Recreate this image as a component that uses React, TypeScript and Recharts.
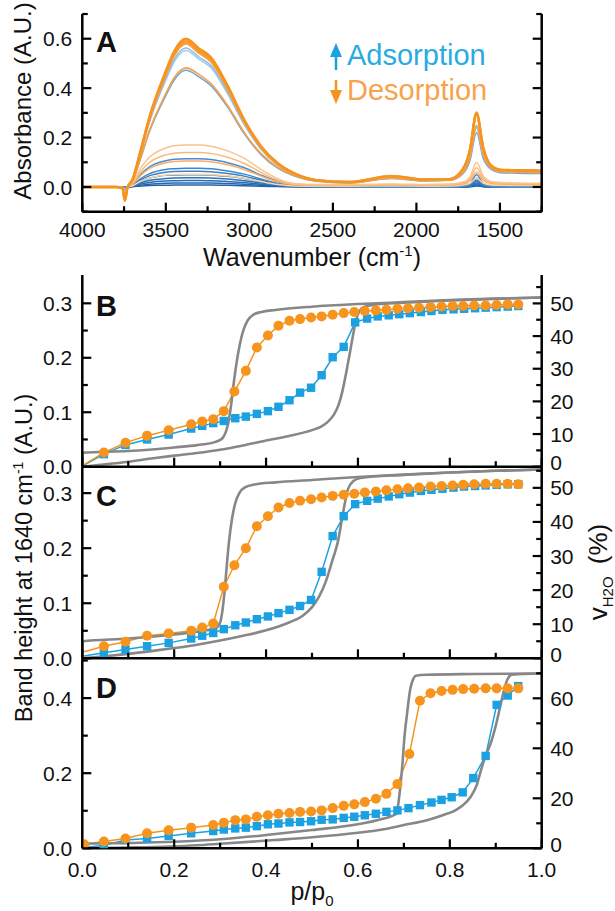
import React from "react";
import { LineChart, Line, XAxis, YAxis } from "recharts";

const FONT = '"Liberation Sans", Arial, Helvetica, sans-serif';
const ORANGE = "#f7941d";
const BLUE = "#1ba1e2";
const GRAY = "#878787";
const AXIS_LINE = { stroke: "#000", strokeWidth: 2.5 };

// ---------- panel A: IR spectra (absorbance vs wavenumber) ----------
const wavenumbers = [4000, 3800, 3760, 3745, 3730, 3700, 3650, 3600, 3500, 3450, 3380, 3300, 3230, 3130, 3030, 2930, 2830, 2730, 2600, 2400, 2150, 1950, 1800, 1720, 1680, 1640, 1600, 1550, 1500, 1400, 1250];

const desTop1 = [0, 0, -0.004, -0.055, -0.004, 0.030, 0.150, 0.280, 0.470, 0.550, 0.600, 0.560, 0.525, 0.410, 0.272, 0.165, 0.096, 0.055, 0.028, 0.020, 0.045, 0.030, 0.032, 0.075, 0.150, 0.302, 0.160, 0.085, 0.070, 0.068, 0.066];
const desTop2 = [0, 0, -0.004, -0.055, -0.004, 0.029, 0.147, 0.275, 0.462, 0.541, 0.590, 0.551, 0.517, 0.403, 0.268, 0.163, 0.095, 0.054, 0.028, 0.020, 0.044, 0.030, 0.032, 0.074, 0.148, 0.297, 0.158, 0.084, 0.069, 0.067, 0.065];
const desTop3 = [0, 0, -0.004, -0.05, -0.004, 0.028, 0.145, 0.270, 0.455, 0.532, 0.580, 0.542, 0.508, 0.397, 0.264, 0.160, 0.093, 0.053, 0.027, 0.019, 0.043, 0.029, 0.031, 0.072, 0.145, 0.292, 0.155, 0.083, 0.068, 0.066, 0.064];
const desMid = [0, 0, -0.004, -0.05, -0.004, 0.024, 0.120, 0.225, 0.378, 0.442, 0.482, 0.455, 0.418, 0.330, 0.220, 0.135, 0.080, 0.046, 0.024, 0.017, 0.036, 0.025, 0.028, 0.060, 0.120, 0.245, 0.130, 0.075, 0.062, 0.060, 0.058];
const desLow1 = [0, 0, -0.003, -0.05, -0.003, 0.017, 0.077, 0.119, 0.158, 0.167, 0.170, 0.170, 0.165, 0.146, 0.116, 0.071, 0.034, 0.014, 0.010, 0.010, 0.012, 0.010, 0.012, 0.020, 0.040, 0.100, 0.045, 0.022, 0.018, 0.016, 0.015];
const desLow2 = [0, 0, -0.003, -0.045, -0.003, 0.014, 0.063, 0.098, 0.130, 0.137, 0.140, 0.140, 0.136, 0.120, 0.095, 0.059, 0.028, 0.012, 0.008, 0.008, 0.010, 0.008, 0.010, 0.016, 0.032, 0.078, 0.036, 0.018, 0.015, 0.013, 0.012];
const desLow3 = [0, 0, -0.002, -0.04, -0.002, 0.011, 0.047, 0.074, 0.098, 0.103, 0.105, 0.105, 0.102, 0.090, 0.071, 0.044, 0.021, 0.009, 0.006, 0.006, 0.008, 0.006, 0.008, 0.012, 0.025, 0.060, 0.028, 0.014, 0.012, 0.010, 0.010];
const desLow4 = [0, 0, -0.002, -0.04, -0.002, 0.005, 0.023, 0.036, 0.048, 0.051, 0.052, 0.052, 0.050, 0.045, 0.035, 0.022, 0.010, 0.004, 0.003, 0.003, 0.004, 0.003, 0.004, 0.008, 0.015, 0.035, 0.016, 0.008, 0.007, 0.006, 0.006];

const adsTop1 = [0, 0, 0, -0.01, 0, 0.027, 0.140, 0.262, 0.440, 0.515, 0.562, 0.525, 0.492, 0.384, 0.256, 0.155, 0.090, 0.051, 0.026, 0.019, 0.040, 0.028, 0.030, 0.066, 0.125, 0.250, 0.135, 0.078, 0.065, 0.063, 0.061];
const adsTop2 = [0, 0, 0, -0.01, 0, 0.026, 0.137, 0.257, 0.432, 0.506, 0.552, 0.516, 0.483, 0.377, 0.251, 0.152, 0.088, 0.050, 0.026, 0.018, 0.039, 0.028, 0.030, 0.064, 0.120, 0.240, 0.130, 0.076, 0.064, 0.062, 0.060];
const adsMid = [0, 0, 0, -0.01, 0, 0.023, 0.117, 0.220, 0.370, 0.433, 0.472, 0.445, 0.410, 0.323, 0.215, 0.131, 0.076, 0.044, 0.023, 0.016, 0.034, 0.024, 0.027, 0.055, 0.105, 0.220, 0.115, 0.070, 0.058, 0.056, 0.055];
const adsLow1 = [0, 0, 0, -0.002, 0, 0.011, 0.051, 0.080, 0.106, 0.112, 0.114, 0.114, 0.111, 0.098, 0.078, 0.048, 0.023, 0.009, 0.002, 0, 0, 0, 0, 0.004, 0.012, 0.050, 0.015, 0.003, 0.001, 0, 0];
const adsLow2 = [0, 0, 0, 0, 0, 0.008, 0.034, 0.053, 0.071, 0.074, 0.076, 0.076, 0.074, 0.065, 0.052, 0.032, 0.015, 0.006, 0.002, 0, 0, 0, 0, 0.003, 0.009, 0.035, 0.010, 0.002, 0, 0, 0];
const adsLow3 = [0, 0, 0, 0, 0, 0.006, 0.029, 0.045, 0.060, 0.063, 0.064, 0.064, 0.062, 0.055, 0.044, 0.027, 0.013, 0.005, 0.001, 0, 0, 0, 0, 0.002, 0.007, 0.028, 0.008, 0.002, 0, 0, 0];
const adsLow4 = [0, 0, 0, 0, 0, 0.005, 0.023, 0.035, 0.047, 0.049, 0.050, 0.050, 0.049, 0.043, 0.034, 0.021, 0.010, 0.004, 0.001, 0, 0, 0, 0, 0.002, 0.005, 0.022, 0.006, 0.001, 0, 0, 0];
const adsLow5 = [0, 0, 0, 0, 0, 0.004, 0.017, 0.026, 0.034, 0.036, 0.037, 0.037, 0.036, 0.032, 0.025, 0.016, 0.007, 0.003, 0, 0, 0, 0, 0, 0.001, 0.004, 0.016, 0.005, 0.001, 0, 0, 0];
const adsLow6 = [0, 0, 0, 0, 0, 0.003, 0.012, 0.018, 0.024, 0.025, 0.026, 0.026, 0.025, 0.022, 0.018, 0.011, 0.005, 0.002, 0, 0, 0, 0, 0, 0.001, 0.003, 0.012, 0.003, 0, 0, 0, 0];
const adsLow7 = [0, 0, 0, 0, 0, 0.002, 0.007, 0.011, 0.015, 0.016, 0.016, 0.016, 0.016, 0.014, 0.011, 0.007, 0.003, 0.001, 0, 0, 0, 0, 0, 0, 0.002, 0.008, 0.002, 0, 0, 0, 0];
const adsLow8 = [0, 0, 0, 0, 0, 0.001, 0.004, 0.006, 0.007, 0.008, 0.008, 0.008, 0.008, 0.007, 0.005, 0.003, 0.002, 0.001, 0, 0, 0, 0, 0, 0, 0.001, 0.004, 0.001, 0, 0, 0, 0];

// drawing order: back to front
const spectra = [
  { key: "a8", values: adsLow8, color: "#2062ab", width: 1.5 },
  { key: "a7", values: adsLow7, color: "#2467b0", width: 1.5 },
  { key: "a6", values: adsLow6, color: "#286db5", width: 1.5 },
  { key: "a5", values: adsLow5, color: "#2c73ba", width: 1.5 },
  { key: "a4", values: adsLow4, color: "#3079bf", width: 1.5 },
  { key: "a3", values: adsLow3, color: "#3a80c4", width: 1.5 },
  { key: "a2", values: adsLow2, color: "#3f86c9", width: 1.5 },
  { key: "a1", values: adsLow1, color: "#4a8ccc", width: 1.5 },
  { key: "d4", values: desLow4, color: "#fcd3a3", width: 1.5 },
  { key: "d3", values: desLow3, color: "#f8ad62", width: 1.5 },
  { key: "d2", values: desLow2, color: "#f9bb7c", width: 1.5 },
  { key: "d1", values: desLow1, color: "#fbc48a", width: 1.5 },
  { key: "am", values: adsMid, color: "#6fa6d8", width: 1.5 },
  { key: "at2", values: adsTop2, color: "#a7cdee", width: 1.5 },
  { key: "at1", values: adsTop1, color: "#8cbde6", width: 1.5 },
  { key: "dm", values: desMid, color: "#f6a04a", width: 1.6 },
  { key: "dt3", values: desTop3, color: "#f8a03c", width: 2.4 },
  { key: "dt2", values: desTop2, color: "#f7962a", width: 2.4 },
  { key: "dt1", values: desTop1, color: ORANGE, width: 2.4 },
];

const spectraRows = wavenumbers.map((w, i) => {
  const row: Record<string, number> = { w };
  for (const s of spectra) row[s.key] = s.values[i];
  return row;
});

const wnTicks = [4000, 3750, 3500, 3250, 3000, 2750, 2500, 2250, 2000, 1750, 1500, 1250];
const wnMajors = [4000, 3500, 3000, 2500, 2000, 1500];
const absTicks = [-0.1, 0, 0.1, 0.2, 0.3, 0.4, 0.5, 0.6, 0.7];
const absMajors = [0, 0.2, 0.4, 0.6];

// ---------- panels B-D: band height (left) and v_H2O (right) vs p/p0 ----------
const pTicks = [0, 0.1, 0.2, 0.3, 0.4, 0.5, 0.6, 0.7, 0.8, 0.9, 1.0];
const pMajors = [0, 0.2, 0.4, 0.6, 0.8, 1.0];

const pDesBC = [0.004, 0.047, 0.094, 0.141, 0.188, 0.237, 0.261, 0.285, 0.308, 0.331, 0.356, 0.380, 0.404, 0.427, 0.451, 0.474, 0.498, 0.521, 0.545, 0.569, 0.592, 0.615, 0.639, 0.662, 0.686, 0.709, 0.733, 0.758, 0.782, 0.806, 0.829, 0.853, 0.878, 0.902, 0.926, 0.949];
const pAdsBC = [0.004, 0.047, 0.094, 0.141, 0.188, 0.237, 0.261, 0.285, 0.308, 0.333, 0.356, 0.380, 0.404, 0.427, 0.451, 0.474, 0.498, 0.521, 0.545, 0.569, 0.594, 0.620, 0.643, 0.667, 0.690, 0.713, 0.737, 0.760, 0.784, 0.808, 0.831, 0.855, 0.878, 0.902, 0.926, 0.949];

const bandDesB = [0.004, 0.026, 0.044, 0.057, 0.067, 0.078, 0.083, 0.087, 0.102, 0.138, 0.176, 0.219, 0.241, 0.259, 0.268, 0.271, 0.274, 0.276, 0.279, 0.282, 0.284, 0.286, 0.287, 0.288, 0.290, 0.291, 0.292, 0.293, 0.294, 0.295, 0.295, 0.296, 0.296, 0.297, 0.298, 0.298];
const bandAdsB = [0.003, 0.023, 0.040, 0.050, 0.059, 0.070, 0.075, 0.080, 0.084, 0.089, 0.092, 0.097, 0.102, 0.110, 0.122, 0.136, 0.145, 0.168, 0.201, 0.220, 0.265, 0.272, 0.276, 0.278, 0.280, 0.282, 0.284, 0.286, 0.288, 0.289, 0.290, 0.291, 0.292, 0.293, 0.294, 0.295];
const pVolDesB = [0, 0.001, 0.1, 0.2, 0.25, 0.29, 0.30, 0.306, 0.312, 0.318, 0.324, 0.330, 0.336, 0.343, 0.350, 0.360, 0.372, 0.390, 0.420, 0.500, 0.600, 0.700, 0.800, 0.900, 1.0];
const volDesB = [0, 4.3, 4.8, 5.9, 6.6, 7.6, 8.2, 8.9, 10.5, 13.5, 19, 26, 32, 37.5, 41.5, 44.8, 46.5, 47.4, 48.0, 49.0, 49.8, 50.4, 51.0, 51.5, 51.8];
const pVolAdsB = [0, 0.05, 0.1, 0.15, 0.2, 0.25, 0.3, 0.35, 0.4, 0.45, 0.5, 0.52, 0.535, 0.548, 0.558, 0.566, 0.574, 0.582, 0.589, 0.596, 0.604, 0.615, 0.635, 0.7, 0.8, 0.9, 1.0];
const volAdsB = [0, 0.7, 1.5, 2.5, 3.4, 4.2, 5.2, 6.5, 8.0, 9.4, 11.2, 12.3, 13.8, 16, 19, 23, 28.5, 34.5, 40, 45, 47.8, 49, 49.6, 50.2, 50.9, 51.4, 51.8];

const bandDesC = [0.012, 0.022, 0.030, 0.041, 0.045, 0.050, 0.056, 0.063, 0.130, 0.169, 0.200, 0.240, 0.258, 0.274, 0.282, 0.286, 0.289, 0.292, 0.295, 0.297, 0.299, 0.301, 0.303, 0.305, 0.307, 0.309, 0.310, 0.312, 0.313, 0.314, 0.315, 0.316, 0.317, 0.317, 0.317, 0.316];
const bandAdsC = [0.004, 0.010, 0.016, 0.022, 0.028, 0.036, 0.041, 0.046, 0.053, 0.060, 0.065, 0.071, 0.076, 0.082, 0.088, 0.095, 0.106, 0.157, 0.222, 0.258, 0.280, 0.286, 0.290, 0.294, 0.298, 0.301, 0.304, 0.306, 0.308, 0.310, 0.312, 0.313, 0.314, 0.315, 0.316, 0.316];
const pVolDesC = [0, 0.001, 0.1, 0.2, 0.27, 0.29, 0.3, 0.305, 0.31, 0.315, 0.32, 0.326, 0.333, 0.342, 0.355, 0.375, 0.42, 0.5, 0.6, 0.7, 0.8, 0.9, 1.0];
const volDesC = [0, 5.0, 5.8, 7.0, 8.2, 8.8, 10.5, 14, 20, 28, 35, 41, 45.5, 48.5, 50.2, 51, 51.6, 52.3, 53.2, 53.9, 54.5, 55.0, 55.4];
const pVolAdsC = [0, 0.05, 0.1, 0.15, 0.2, 0.25, 0.3, 0.35, 0.4, 0.45, 0.48, 0.5, 0.515, 0.53, 0.545, 0.556, 0.568, 0.578, 0.59, 0.605, 0.7, 0.8, 0.9, 1.0];
const volAdsC = [0, 0.6, 1.3, 2.1, 3.0, 4.0, 5.2, 6.6, 8.2, 10.5, 12.5, 15, 18, 22.5, 29, 34, 43, 49.5, 52, 52.9, 53.8, 54.5, 55.0, 55.4];

const pDesD = [0.004, 0.047, 0.094, 0.141, 0.188, 0.237, 0.285, 0.308, 0.333, 0.356, 0.380, 0.404, 0.427, 0.451, 0.474, 0.498, 0.521, 0.545, 0.569, 0.592, 0.615, 0.639, 0.662, 0.686, 0.712, 0.735, 0.758, 0.782, 0.806, 0.829, 0.853, 0.878, 0.902, 0.926, 0.949];
const bandDesD = [0.011, 0.018, 0.026, 0.040, 0.048, 0.055, 0.062, 0.068, 0.075, 0.077, 0.084, 0.088, 0.092, 0.094, 0.097, 0.098, 0.101, 0.107, 0.113, 0.117, 0.123, 0.132, 0.145, 0.171, 0.251, 0.393, 0.413, 0.419, 0.422, 0.424, 0.425, 0.426, 0.426, 0.426, 0.426];
const pAdsD = [0.004, 0.047, 0.094, 0.141, 0.188, 0.237, 0.285, 0.308, 0.333, 0.356, 0.380, 0.404, 0.427, 0.451, 0.474, 0.498, 0.521, 0.545, 0.569, 0.592, 0.615, 0.639, 0.662, 0.686, 0.710, 0.735, 0.760, 0.782, 0.804, 0.828, 0.851, 0.878, 0.902, 0.926, 0.949];
const bandAdsD = [0.002, 0.008, 0.022, 0.026, 0.033, 0.040, 0.046, 0.050, 0.053, 0.055, 0.059, 0.064, 0.066, 0.069, 0.070, 0.072, 0.076, 0.077, 0.081, 0.084, 0.088, 0.092, 0.097, 0.101, 0.107, 0.115, 0.122, 0.129, 0.136, 0.149, 0.187, 0.246, 0.382, 0.407, 0.432];
const pVolDesD = [0, 0.001, 0.1, 0.2, 0.3, 0.4, 0.5, 0.6, 0.65, 0.684, 0.688, 0.692, 0.697, 0.701, 0.707, 0.714, 0.72, 0.726, 0.75, 0.85, 1.0];
const volDesD = [0, 1.8, 2.1, 2.6, 3.6, 5.3, 7.3, 9.6, 11.6, 13.8, 18, 24.3, 34, 44, 54, 63.8, 67.5, 69, 69.4, 69.7, 69.9];
const pVolAdsD = [0, 0.1, 0.188, 0.25, 0.3, 0.419, 0.5, 0.6, 0.65, 0.7, 0.75, 0.786, 0.81, 0.829, 0.845, 0.858, 0.869, 0.88, 0.889, 0.9, 0.91, 0.919, 0.926, 0.935, 1.0];
const volAdsD = [0, 0.3, 0.7, 1.2, 1.8, 3.3, 4.4, 6.2, 7.4, 9.3, 11.2, 13.3, 15.0, 17.3, 20.5, 25, 32, 38, 42, 49, 57, 64, 67.8, 69.4, 69.9];

const zip = (p: number[], v: number[]) => p.map((x, i) => ({ p: x, v: v[i] }));

// ---------- axis ticks drawn inward ----------
type Side = "bottom" | "top" | "left" | "right";
const LABEL = { fill: "#111", stroke: "none", fontSize: 21, fontFamily: FONT };

function makeTick(side: Side, majors: number[], fmt?: (v: number) => string, labelGap = 29) {
  return (props: any) => {
    const { x, y, payload, index } = props;
    const v = Number(payload.value);
    const major = majors.some((m) => Math.abs(m - v) < 1e-9);
    const len = major ? 9 : 5.5;
    const text = major && fmt ? fmt(v) : null;
    let mark;
    let label = null;
    if (side === "bottom") {
      mark = <line x1={x} y1={y} x2={x} y2={y - len} />;
      if (text) label = <text x={x} y={y + labelGap} textAnchor="middle" {...LABEL}>{text}</text>;
    } else if (side === "top") {
      mark = <line x1={x} y1={y} x2={x} y2={y + len} />;
    } else if (side === "left") {
      mark = <line x1={x} y1={y} x2={x + len} y2={y} />;
      if (text) label = <text x={x - 10} y={y} dy="0.36em" textAnchor="end" {...LABEL}>{text}</text>;
    } else {
      mark = <line x1={x} y1={y} x2={x - len} y2={y} />;
      // the zero label sits where two panels meet, so lift it a little
      if (text) label = <text x={x + 8.5} y={v === 0 ? y - 4 : y} dy="0.36em" textAnchor="start" {...LABEL}>{text}</text>;
    }
    return (
      <g key={`tk-${side}-${index}`} stroke="#000" strokeWidth={2.2}>
        {mark}
        {label}
      </g>
    );
  };
}

const fix1 = (v: number) => v.toFixed(1);
const int0 = (v: number) => String(Math.round(v));

function SpectraPanel() {
  return (
    <LineChart width={615} height={270} data={spectraRows} margin={{ top: 14, right: 0, bottom: 0, left: 0 }}>
      <XAxis xAxisId="b" dataKey="w" type="number" domain={[1250, 4000]} reversed allowDataOverflow ticks={wnTicks} interval={0}
        tickSize={0} tickMargin={0} tickLine={false} axisLine={AXIS_LINE} height={58.3} tick={makeTick("bottom", wnMajors, int0, 25)} />
      <XAxis xAxisId="t" orientation="top" dataKey="w" type="number" domain={[1250, 4000]} reversed allowDataOverflow ticks={wnTicks} interval={0}
        tickSize={0} tickMargin={0} tickLine={false} axisLine={AXIS_LINE} height={0} tick={makeTick("top", wnMajors)} />
      <YAxis yAxisId="l" type="number" domain={[-0.1, 0.7]} allowDataOverflow ticks={absTicks} interval={0}
        tickSize={0} tickMargin={0} tickLine={false} axisLine={AXIS_LINE} width={82.3} tick={makeTick("left", absMajors, fix1)} />
      <YAxis yAxisId="r" orientation="right" type="number" domain={[-0.1, 0.7]} allowDataOverflow ticks={absTicks} interval={0}
        tickSize={0} tickMargin={0} tickLine={false} axisLine={AXIS_LINE} width={73.3} tick={makeTick("right", absMajors)} />
      {spectra.map((s) => (
        <Line key={s.key} xAxisId="b" yAxisId="l" type="monotone" dataKey={s.key} stroke={s.color} strokeWidth={s.width}
          dot={false} activeDot={false} isAnimationActive={false} />
      ))}
    </LineChart>
  );
}

const circleDot = (skipFirst: boolean) => (props: any) => {
  const { cx, cy, index } = props;
  if (cx == null || cy == null || (skipFirst && index === 0)) return <g key={`c-${index}`} />;
  return <circle key={`c-${index}`} cx={cx} cy={cy} r={5} fill={ORANGE} stroke="none" />;
};
const squareDot = (skipFirst: boolean) => (props: any) => {
  const { cx, cy, index } = props;
  if (cx == null || cy == null || (skipFirst && index === 0)) return <g key={`s-${index}`} />;
  return <rect key={`s-${index}`} x={cx - 4.2} y={cy - 4.2} width={8.4} height={8.4} fill={BLUE} stroke="none" />;
};

type IsoProps = {
  height: number;
  top: number;
  bottomH: number;
  yMax: number;
  yTicks: number[];
  yMajors: number[];
  rMax: number;
  rTicks: number[];
  rMajors: number[];
  xLabels: boolean;
  skipFirst: boolean;
  des: { p: number; v: number }[];
  ads: { p: number; v: number }[];
  volDes: { p: number; v: number }[];
  volAds: { p: number; v: number }[];
};

function IsothermPanel(o: IsoProps) {
  return (
    <LineChart width={615} height={o.height} margin={{ top: o.top, right: 0, bottom: 0, left: 0 }}>
      <XAxis xAxisId="b" dataKey="p" type="number" domain={[0, 1]} allowDataOverflow ticks={pTicks} interval={0}
        tickSize={0} tickMargin={0} tickLine={false} axisLine={AXIS_LINE} height={o.bottomH}
        tick={makeTick("bottom", pMajors, o.xLabels ? fix1 : undefined)} />
      <XAxis xAxisId="t" orientation="top" dataKey="p" type="number" domain={[0, 1]} allowDataOverflow ticks={pTicks} interval={0}
        tickSize={0} tickMargin={0} tickLine={false} axisLine={AXIS_LINE} height={0} tick={makeTick("top", pMajors)} />
      <YAxis yAxisId="l" type="number" domain={[0, o.yMax]} allowDataOverflow ticks={o.yTicks} interval={0}
        tickSize={0} tickMargin={0} tickLine={false} axisLine={AXIS_LINE} width={82.3} tick={makeTick("left", o.yMajors, fix1)} />
      <YAxis yAxisId="r" orientation="right" type="number" domain={[0, o.rMax]} allowDataOverflow ticks={o.rTicks} interval={0}
        tickSize={0} tickMargin={0} tickLine={false} axisLine={AXIS_LINE} width={73.3} tick={makeTick("right", o.rMajors, int0)} />
      <Line xAxisId="b" yAxisId="l" data={o.ads} dataKey="v" type="linear" stroke={BLUE} strokeWidth={1.5}
        dot={squareDot(o.skipFirst)} activeDot={false} isAnimationActive={false} />
      <Line xAxisId="b" yAxisId="l" data={o.des} dataKey="v" type="linear" stroke={ORANGE} strokeWidth={1.5}
        dot={circleDot(o.skipFirst)} activeDot={false} isAnimationActive={false} />
      <Line xAxisId="b" yAxisId="r" data={o.volAds} dataKey="v" type="monotone" stroke={GRAY} strokeWidth={2.6}
        dot={false} activeDot={false} isAnimationActive={false} />
      <Line xAxisId="b" yAxisId="r" data={o.volDes} dataKey="v" type="monotone" stroke={GRAY} strokeWidth={2.6}
        dot={false} activeDot={false} isAnimationActive={false} />
    </LineChart>
  );
}

function Overlay() {
  const t = { fontFamily: FONT, fill: "#111" };
  return (
    <svg width={615} height={911} style={{ position: "absolute", left: 0, top: 0, pointerEvents: "none" }}>
      <text {...t} fontSize={24} textAnchor="middle" transform="translate(31,101) rotate(-90)">Absorbance (A.U.)</text>
      <text {...t} fontSize={25} textAnchor="middle" x={312} y={266}>
        Wavenumber (cm<tspan fontSize={15} dy={-10}>-1</tspan><tspan dy={10}>)</tspan>
      </text>
      <text {...t} fontSize={23.5} textAnchor="middle" transform="translate(32,558) rotate(-90)">
        Band height at 1640 cm<tspan fontSize={14} dy={-9}>-1</tspan><tspan dy={9}> (A.U.)</tspan>
      </text>
      <text {...t} fontSize={26} textAnchor="middle" transform="translate(607,572) rotate(-90)">
        v<tspan fontSize={15} dy={6}>H2O</tspan><tspan dy={-6} dx={5}> (%)</tspan>
      </text>
      <text {...t} fontSize={25} textAnchor="middle" x={312} y={900}>
        p/p<tspan fontSize={15} dy={6}>0</tspan>
      </text>
      <text {...t} fontSize={29} fontWeight="bold" x={96} y={52}>A</text>
      <text {...t} fontSize={29} fontWeight="bold" x={96} y={316}>B</text>
      <text {...t} fontSize={29} fontWeight="bold" x={96} y={506}>C</text>
      <text {...t} fontSize={29} fontWeight="bold" x={96} y={698}>D</text>
      <line x1={336} y1={70} x2={336} y2={54} stroke={BLUE} strokeWidth={2.5} />
      <polygon points="336,43 330,57 342,57" fill={BLUE} />
      <text fontFamily={FONT} fontSize={29} fill="#29abe2" x={347} y={65}>Adsorption</text>
      <line x1={336} y1={80} x2={336} y2={92} stroke={ORANGE} strokeWidth={2.5} />
      <polygon points="336,104 330,90 342,90" fill={ORANGE} />
      <text fontFamily={FONT} fontSize={29} fill="#f9a24c" x={347} y={100}>Desorption</text>
    </svg>
  );
}

export default function App() {
  return (
    <div style={{ position: "absolute", left: 0, top: 0, width: 615, height: 911, background: "#fff", overflow: "hidden" }}>
      <style>{`.recharts-surface{overflow:visible}`}</style>
      <div style={{ position: "absolute", left: 0, top: 0 }}>
        <SpectraPanel />
      </div>
      <div style={{ position: "absolute", left: 0, top: 255 }}>
        <IsothermPanel height={225} top={20} bottomH={13.3} yMax={0.352} yTicks={[0, 0.05, 0.1, 0.15, 0.2, 0.25, 0.3]}
          yMajors={[0, 0.1, 0.2, 0.3]} rMax={58.7} rTicks={[0, 5, 10, 15, 20, 25, 30, 35, 40, 45, 50, 55]} rMajors={[0, 10, 20, 30, 40, 50]}
          xLabels={false} skipFirst des={zip(pDesBC, bandDesB)} ads={zip(pAdsBC, bandAdsB)}
          volDes={zip(pVolDesB, volDesB)} volAds={zip(pVolAdsB, volAdsB)} />
      </div>
      <div style={{ position: "absolute", left: 0, top: 446 }}>
        <IsothermPanel height={225} top={20.7} bottomH={12.7} yMax={0.348} yTicks={[0, 0.05, 0.1, 0.15, 0.2, 0.25, 0.3]}
          yMajors={[0, 0.1, 0.2, 0.3]} rMax={56.2} rTicks={[0, 5, 10, 15, 20, 25, 30, 35, 40, 45, 50, 55]} rMajors={[0, 10, 20, 30, 40, 50]}
          xLabels={false} skipFirst des={zip(pDesBC, bandDesC)} ads={zip(pAdsBC, bandAdsC)}
          volDes={zip(pVolDesC, volDesC)} volAds={zip(pVolAdsC, volAdsC)} />
      </div>
      <div style={{ position: "absolute", left: 0, top: 638 }}>
        <IsothermPanel height={273} top={20.3} bottomH={62.7} yMax={0.506} yTicks={[0, 0.1, 0.2, 0.3, 0.4, 0.5]}
          yMajors={[0, 0.2, 0.4]} rMax={76} rTicks={[0, 10, 20, 30, 40, 50, 60, 70]} rMajors={[0, 20, 40, 60]}
          xLabels skipFirst={false} des={zip(pDesD, bandDesD)} ads={zip(pAdsD, bandAdsD)}
          volDes={zip(pVolDesD, volDesD)} volAds={zip(pVolAdsD, volAdsD)} />
      </div>
      <Overlay />
    </div>
  );
}
